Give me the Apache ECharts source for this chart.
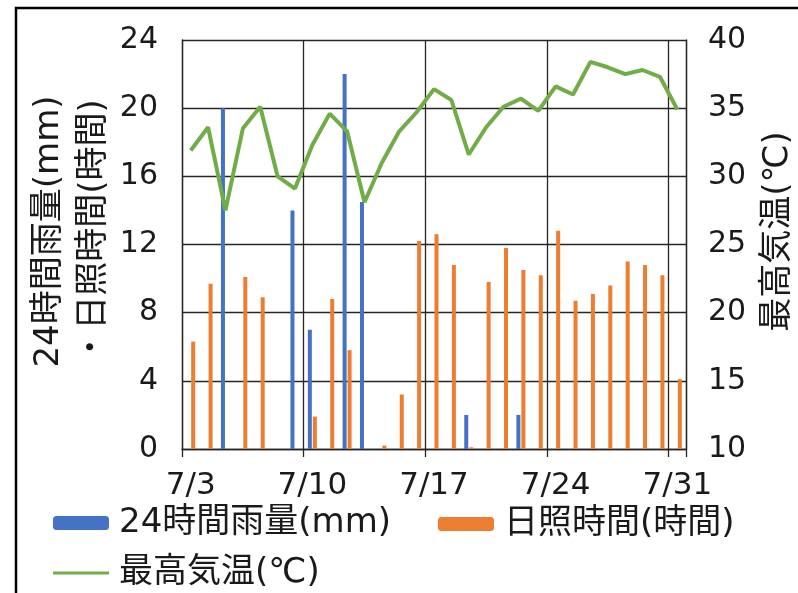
<!DOCTYPE html>
<html>
<head>
<meta charset="utf-8">
<script src="https://cdn.jsdelivr.net/npm/echarts@6/dist/echarts.min.js"></script>
<style>
  html, body { margin: 0; padding: 0; background: #fff; }
  #chart { width: 798px; height: 593px; }
</style>
</head>
<body>
<div id="chart"></div>
<script>
// July daily weather: rainfall, sunshine hours and max temperature
const dates = ['7/3','7/4','7/5','7/6','7/7','7/8','7/9','7/10','7/11','7/12',
  '7/13','7/14','7/15','7/16','7/17','7/18','7/19','7/20','7/21','7/22',
  '7/23','7/24','7/25','7/26','7/27','7/28','7/29','7/30','7/31'];

const rain = [null, null, 20, null, null, null, 14, 7, null, 22,
  14.5, null, null, null, null, null, 2, null, null, 2,
  null, null, null, null, null, null, null, null, null];

const sunshine = [6.3, 9.7, null, 10.1, 8.9, null, null, 1.9, 8.8, 5.8,
  null, 0.2, 3.2, 12.2, 12.6, 10.8, 0.1, 9.8, 11.8, 10.5,
  10.2, 12.8, 8.7, 9.1, 9.6, 11.0, 10.8, 10.2, 4.1];

const maxTemp = [31.9, 33.6, 27.5, 33.5, 35.1, 30.0, 29.1, 32.3, 34.6, 33.3,
  28.1, 31.0, 33.3, 34.7, 36.4, 35.6, 31.6, 33.6, 35.1, 35.7,
  34.8, 36.6, 36.0, 38.4, 38.0, 37.5, 37.8, 37.3, 34.9];

const seriesNames = ['24時間雨量(mm)', '日照時間(時間)', '最高気温(℃)'];
const leftTitle = '24時間雨量(mm)\n・日照時間(時間)';
const rightTitle = '最高気温(℃)';

const FONT = "'DejaVu Sans', 'Noto Sans CJK JP', sans-serif";
const TEXT = '#1a1a1a';
const GRID = '#262626';
const BLUE = '#4472C4';
const ORANGE = '#ED7D31';
const GREEN = '#70AD47';

const chart = echarts.init(document.getElementById('chart'), null, { renderer: 'canvas' });

const legendBase = {
  orient: 'horizontal',
  itemWidth: 56,
  itemHeight: 14,
  padding: 0,
  selectedMode: false,
  textStyle: { fontSize: 34, fontFamily: FONT, color: TEXT, padding: [0, 0, 0, 5] }
};

chart.setOption({
  animation: false,
  backgroundColor: '#fff',
  graphic: [{
    type: 'rect',
    shape: { x: 16, y: 8, width: 800, height: 600 },
    style: { fill: 'none', stroke: '#000', lineWidth: 2.5 },
    z: -1
  }],
  grid: { left: 182, right: 112, top: 40, bottom: 144, containLabel: false, outerBoundsMode: 'none' },
  legend: [
    Object.assign({}, legendBase, { left: 53, top: 506, data: [seriesNames[0]] }),
    Object.assign({}, legendBase, { left: 438, top: 507, data: [seriesNames[1]] }),
    Object.assign({}, legendBase, {
      left: 53, top: 556, itemHeight: 3,
      data: [{ name: seriesNames[2], icon: 'rect', itemStyle: { color: GREEN } }]
    })
  ],
  xAxis: {
    type: 'category',
    data: dates,
    boundaryGap: true,
    axisLine: { show: true, lineStyle: { color: GRID, width: 1.3 } },
    axisTick: { show: true, interval: 6, length: 8, lineStyle: { color: GRID, width: 1.3 } },
    axisLabel: { interval: 6, margin: 21, fontSize: 31, fontFamily: FONT, color: TEXT },
    splitLine: { show: true, interval: 6, lineStyle: { color: GRID, width: 1.3 } }
  },
  yAxis: [{
    type: 'value',
    min: 0, max: 24, interval: 4,
    position: 'left',
    name: leftTitle,
    nameLocation: 'middle',
    nameRotate: 90,
    nameGap: 65,
    nameMoveOverlap: false,
    nameTextStyle: { fontSize: 34, fontFamily: FONT, color: TEXT, lineHeight: 45, padding: [0, 0, 0, 26] },
    axisLine: { show: true, lineStyle: { color: GRID, width: 1.3 } },
    axisTick: { show: false },
    axisLabel: { margin: 24, fontSize: 30, fontFamily: FONT, color: TEXT },
    splitLine: { show: true, lineStyle: { color: GRID, width: 1.3 } }
  }, {
    type: 'value',
    min: 10, max: 40, interval: 5,
    position: 'right',
    name: rightTitle,
    nameLocation: 'middle',
    nameRotate: 90,
    nameGap: 75,
    nameMoveOverlap: false,
    nameTextStyle: { fontSize: 34, fontFamily: FONT, color: TEXT, lineHeight: 34, padding: [0, 0, 0, 26] },
    axisLine: { show: true, lineStyle: { color: GRID, width: 1.3 } },
    axisTick: { show: false },
    axisLabel: { margin: 22, fontSize: 30, fontFamily: FONT, color: TEXT },
    splitLine: { show: false }
  }],
  series: [{
    name: seriesNames[0],
    type: 'bar',
    yAxisIndex: 0,
    data: rain,
    barWidth: 4,
    barGap: '25%',
    itemStyle: { color: BLUE }
  }, {
    name: seriesNames[1],
    type: 'bar',
    yAxisIndex: 0,
    data: sunshine,
    barWidth: 4,
    barGap: '25%',
    itemStyle: { color: ORANGE }
  }, {
    name: seriesNames[2],
    type: 'line',
    yAxisIndex: 1,
    data: maxTemp,
    symbol: 'none',
    lineStyle: { color: GREEN, width: 4 },
    itemStyle: { color: GREEN },
    z: 5
  }]
});
</script>
</body>
</html>
